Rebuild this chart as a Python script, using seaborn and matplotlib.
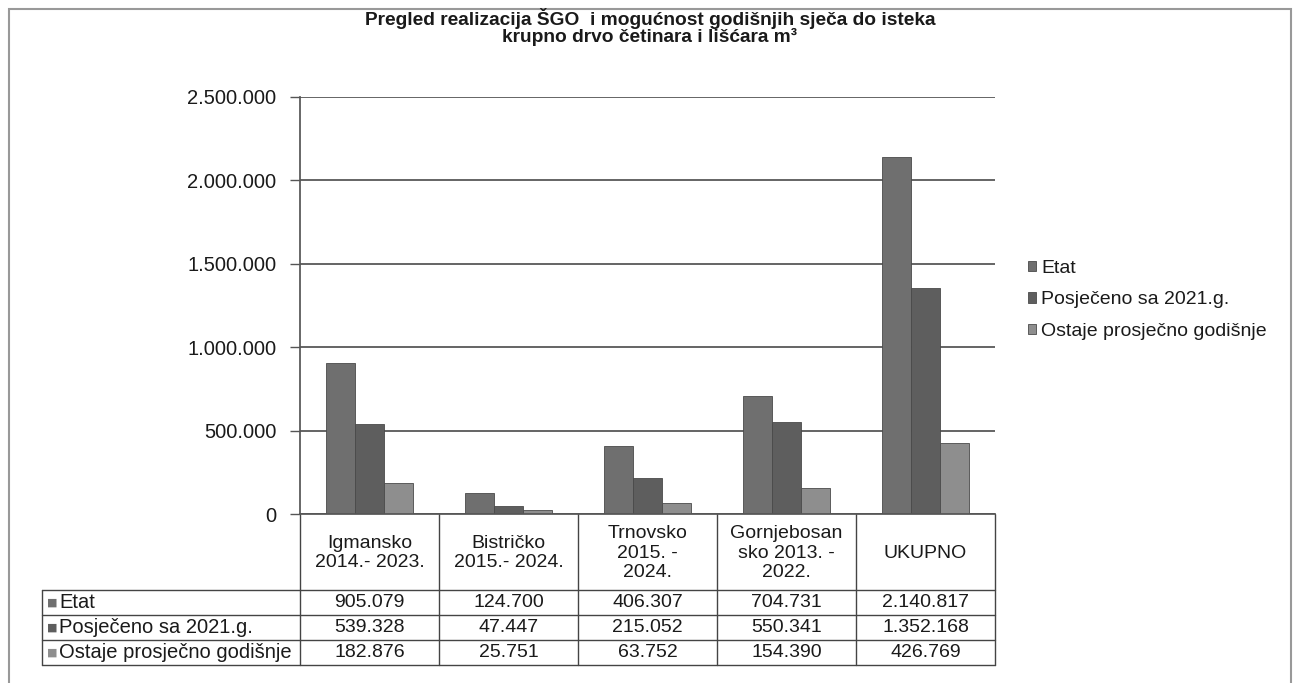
import numpy as np
import pandas as pd
import matplotlib
matplotlib.use("Agg")
import matplotlib.pyplot as plt
from matplotlib.patches import Rectangle
import seaborn as sns

categories = ["Igmansko\n2014.- 2023.", "Bistričko\n2015.- 2024.", "Trnovsko\n2015. -\n2024.",
              "Gornjebosan\nsko 2013. -\n2022.", "UKUPNO"]
series = ["Etat", "Posječeno sa 2021.g.", "Ostaje prosječno godišnje"]
etat = [905079, 124700, 406307, 704731, 2140817]
posjeceno = [539328, 47447, 215052, 550341, 1352168]
ostaje = [182876, 25751, 63752, 154390, 426769]
yticks = [0, 500000, 1000000, 1500000, 2000000, 2500000]
title = "Pregled realizacija ŠGO  i mogućnost godišnjih sječa do isteka\nkrupno drvo četinara i lišćara m³"

colors = ["#6f6f6f", "#5e5e5e", "#8e8e8e"]
TXT = "#1a1a1a"

sns.set_theme(style="white")
plt.rcParams['font.family'] = ['Liberation Sans', 'DejaVu Sans']

def fmt(v):
    return f"{int(v):,}".replace(",", ".")

rows = []
for s, vals in zip(series, [etat, posjeceno, ostaje]):
    for c, v in zip(categories, vals):
        rows.append({"kat": c, "serija": s, "val": v})
df = pd.DataFrame(rows)

W, H = 1296, 683
fig = plt.figure(figsize=(W / 100, H / 100), dpi=100)
fig.patch.set_facecolor("white")

AX_L, AX_R, AX_T, AX_B = 300, 995, 97, 514
ax = fig.add_axes([AX_L / W, 1 - AX_B / H, (AX_R - AX_L) / W, (AX_B - AX_T) / H])

sns.barplot(data=df, x="kat", y="val", hue="serija", palette=colors, width=0.63,
            saturation=1, edgecolor="#4a4a4a", linewidth=0.6, ax=ax, legend=True)

ax.set_xlim(-0.5, len(categories) - 0.5)
ax.set_ylim(0, yticks[-1])
ax.set_yticks(yticks)
ax.set_yticklabels([fmt(v) for v in yticks], fontsize=14.5, color=TXT)
ax.set_xticks([])
ax.set_xlabel("")
ax.set_ylabel("")
ax.yaxis.grid(True, color="#3a3a3a", lw=1.1)
ax.set_axisbelow(True)
for sp in ["top", "right"]:
    ax.spines[sp].set_visible(False)
ax.spines["left"].set_color("#555")
ax.spines["bottom"].set_color("#555")
ax.tick_params(axis="y", direction="out", length=7, width=1, color="#555", left=True, pad=10)

# Legend
h, l = ax.get_legend_handles_labels()
ax.legend(h, l, loc="upper left", bbox_to_anchor=(1020 / W, 1 - 252 / H), bbox_transform=fig.transFigure,
          frameon=False, fontsize=14, handlelength=0.4, handleheight=0.45, handletextpad=0.3,
          labelspacing=0.75, borderaxespad=0, labelcolor=TXT)

# Data table
trans = ax.get_xaxis_transform()
cw = (AX_R - AX_L) / len(categories)

def xd(px):
    return (px - AX_L) / cw - 0.5

def yf(py):
    return -(py - AX_B) / (AX_B - AX_T)

TL = 42
row_edges = [590, 615, 640, 665]
line_kw = dict(color="#444", lw=1, transform=trans, clip_on=False)
for py in row_edges:
    ax.plot([xd(TL), xd(AX_R)], [yf(py), yf(py)], **line_kw)
for i in range(len(categories) + 1):
    ax.plot([i - 0.5, i - 0.5], [yf(AX_B), yf(row_edges[-1])], **line_kw)
ax.plot([xd(TL), xd(TL)], [yf(row_edges[0]), yf(row_edges[-1])], **line_kw)

for i, c in enumerate(categories):
    ax.text(i, yf(553), c, transform=trans, ha="center", va="center", fontsize=14,
            linespacing=1.2, color=TXT)

for r, (s, vals) in enumerate(zip(series, [etat, posjeceno, ostaje])):
    yc = yf((row_edges[r] + row_edges[r + 1]) / 2)
    ax.text(xd(47), yc, "■", transform=trans, ha="left", va="center", fontsize=8,
            color=colors[r], family=["DejaVu Sans"])
    ax.text(xd(59), yc, s, transform=trans, ha="left", va="center", fontsize=14.5, color=TXT)
    for i, v in enumerate(vals):
        ax.text(i, yc, fmt(v), transform=trans, ha="center", va="center", fontsize=14, color=TXT)

# Title
fig.text(650 / W, 1 - 27 / H, title, ha="center", va="center", fontsize=13.8, fontweight="bold",
         linespacing=0.98, color=TXT)

# Outer frame
fig.patches.append(Rectangle((9 / W, -0.02), (1291 - 9) / W, 1 - 9 / H + 0.02, transform=fig.transFigure,
                             fill=False, edgecolor="#999", lw=1.5))

fig.savefig("out.png", dpi=100)
